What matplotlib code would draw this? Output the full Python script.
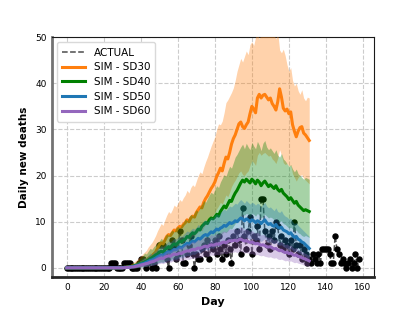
import numpy as np
import matplotlib
matplotlib.use('Agg')
import matplotlib.pyplot as plt

# actual daily deaths, day 0..158
actual = [0]*20 + [
    0, 0, 0, 0, 1, 1, 1, 0, 0, 0,
    0, 1, 1, 1, 1, 0, 0, 0, 0, 1,
    2, 2, 1, 0, 1, 2, 0, 1, 0, 3,
    5, 5, 5, 3, 2, 0, 4, 6, 5, 2,
    3, 8, 6, 1, 1, 3, 5, 7, 3, 0,
    3, 2, 2, 4, 5, 3, 6, 2, 5, 4,
    6, 3, 7, 4, 2, 5, 3, 6, 4, 1,
    7, 5, 8, 6, 3, 13, 7, 4, 8, 11,
    3, 7, 6, 9, 4, 15, 15, 8, 5, 7,
    4, 8, 6, 10, 9, 5, 7, 4, 6, 5,
    3, 6, 4, 10, 5, 3, 5, 2, 4, 3,
    1, 2, 1, 3, 2, 1, 3, 1, 4, 4,
    4, 4, 3, 1, 1, 7, 4, 3, 1, 2,
    1, 0, 1, 2, 0, 1, 3, 0, 2]

# simulations, day 0..131 (zero before day 30)
sd30_mean = [0]*30 + [
    0, 0.1, 0.1, 0.2, 0.2, 0.3, 0.4, 0.5, 0.7, 0.8,
    1.0, 1.2, 1.4, 1.7, 2.0, 2.3, 2.6, 3.0, 3.4, 4.2,
    5.0, 5.4, 5.2, 6.0, 6.8, 7.2, 7.0, 7.6, 8.2, 8.0,
    8.6, 9.0, 8.8, 9.4, 9.8, 10.4, 10.0, 10.8, 11.2, 11.0,
    12.0, 12.6, 13.2, 13.0, 14.2, 15.0, 15.6, 16.4, 17.2, 17.8,
    18.6, 19.8, 20.6, 21.6, 21.0, 22.6, 24.0, 23.6, 25.0, 26.8,
    28.0, 28.8, 30.0, 31.2, 31.6, 30.6, 30.2, 31.0, 31.6, 33.4,
    35.0, 34.4, 33.6, 36.8, 37.6, 36.8, 37.4, 37.6, 37.0, 36.4,
    36.8, 35.6, 35.0, 34.2, 36.0, 38.8, 37.0, 34.6, 34.0, 34.4,
    33.4, 33.8, 31.0, 29.6, 28.4, 29.6, 30.4, 30.6, 29.2, 28.8,
    28.2, 27.6]
sd30_hi = [0]*30 + [
    0, 0.3, 0.4, 0.6, 0.7, 1.0, 1.2, 1.5, 1.8, 2.2,
    2.6, 3.0, 3.4, 3.8, 4.5, 5.0, 5.5, 6.2, 7.0, 8.0,
    8.8, 9.6, 9.2, 10.4, 11.4, 12.2, 11.8, 12.6, 13.6, 13.2,
    14.0, 14.8, 14.4, 15.2, 15.8, 16.8, 16.2, 17.4, 18.0, 17.6,
    18.8, 20.0, 20.8, 20.4, 21.8, 23.0, 24.0, 25.2, 26.4, 27.4,
    28.4, 30.0, 31.2, 31.0, 31.8, 33.6, 35.8, 36.4, 37.2, 38.0,
    39.0, 40.6, 42.6, 44.0, 45.4, 44.6, 45.8, 47.0, 46.2, 48.4,
    49.0, 48.2, 50.0, 51.0, 49.6, 50.8, 52.0, 51.4, 53.0, 50.6,
    52.0, 54.0, 50.4, 49.6, 51.0, 47.2, 46.6, 47.4, 46.0, 44.0,
    42.6, 43.4, 40.6, 39.4, 40.0, 38.4, 37.6, 38.6, 36.8, 36.2,
    37.0, 36.8]
sd30_lo = [0]*30 + [
    0, 0, 0, 0, 0, 0, 0, 0, 0.1, 0.2,
    0.3, 0.4, 0.5, 0.6, 0.8, 1.0, 1.2, 1.4, 1.6, 2.2,
    2.8, 3.0, 2.8, 3.4, 4.0, 4.2, 4.0, 4.4, 4.8, 4.6,
    5.0, 5.4, 5.2, 5.6, 6.0, 6.4, 6.0, 6.6, 7.0, 6.8,
    7.4, 7.8, 8.2, 8.0, 8.8, 9.4, 9.8, 10.4, 11.0, 11.4,
    12.0, 12.8, 13.4, 14.2, 13.8, 14.8, 15.8, 15.4, 16.4, 17.6,
    18.4, 19.0, 19.8, 20.6, 21.0, 20.2, 20.0, 20.6, 21.0, 22.2,
    23.2, 22.8, 22.2, 24.4, 25.0, 24.4, 24.8, 25.0, 24.6, 24.2,
    24.4, 23.6, 23.2, 22.6, 23.8, 25.6, 24.4, 22.8, 22.4, 22.6,
    22.0, 22.2, 20.4, 19.6, 18.8, 19.6, 20.0, 20.2, 19.4, 19.0,
    18.6, 18.2]

sd40_mean = [0]*30 + [
    0, 0.1, 0.1, 0.2, 0.2, 0.3, 0.4, 0.5, 0.6, 0.8,
    1.0, 1.1, 1.3, 1.5, 1.7, 2.0, 2.2, 2.5, 2.8, 3.0,
    3.4, 3.6, 3.4, 3.9, 4.3, 4.6, 4.4, 4.9, 5.2, 5.0,
    5.4, 5.8, 5.6, 6.0, 6.2, 6.8, 6.6, 7.2, 7.6, 7.4,
    7.8, 8.4, 8.2, 9.0, 9.4, 9.8, 9.6, 10.4, 10.8, 10.6,
    11.0, 11.6, 11.2, 12.2, 12.8, 13.4, 13.0, 13.8, 14.6, 14.4,
    15.4, 16.2, 16.8, 17.6, 18.4, 19.0, 18.6, 19.2, 18.8, 18.4,
    19.2, 18.8, 18.2, 19.0, 18.6, 17.8, 18.4, 18.8, 18.2, 17.6,
    18.0, 17.6, 17.2, 17.8, 17.0, 16.6, 17.0, 16.2, 15.8, 15.4,
    14.8, 15.2, 14.6, 14.0, 14.4, 13.6, 13.2, 12.8, 12.4, 12.6,
    12.4, 12.2]
sd40_hi = [0]*30 + [
    0, 0.2, 0.3, 0.5, 0.6, 0.8, 1.0, 1.2, 1.5, 1.8,
    2.2, 2.6, 3.2, 3.0, 3.6, 4.2, 4.0, 4.6, 5.0, 5.6,
    5.8, 6.4, 6.0, 6.8, 7.4, 7.0, 7.8, 8.2, 7.8, 8.6,
    9.0, 8.6, 9.4, 9.8, 10.6, 10.2, 11.0, 11.6, 11.2, 12.0,
    12.6, 12.2, 13.2, 13.8, 14.6, 14.2, 15.0, 15.8, 16.4, 16.0,
    17.0, 17.8, 17.4, 18.6, 19.4, 20.2, 19.8, 21.0, 22.0, 21.6,
    22.8, 24.0, 24.6, 25.4, 26.2, 26.8, 25.8, 27.0, 26.2, 25.6,
    27.2, 26.4, 25.8, 27.4, 26.6, 25.4, 27.0, 27.6, 26.2, 25.6,
    26.0, 25.4, 24.8, 25.6, 24.4, 24.0, 24.8, 23.6, 23.2, 22.6,
    22.0, 22.4, 21.4, 20.8, 21.4, 20.4, 20.0, 19.6, 19.2, 19.6,
    19.4, 19.2]
sd40_lo = [0]*30 + [
    0, 0, 0, 0, 0, 0, 0, 0, 0, 0.1,
    0.2, 0.2, 0.3, 0.4, 0.5, 0.6, 0.7, 0.8, 0.9, 1.0,
    1.2, 1.3, 1.2, 1.5, 1.7, 1.9, 1.8, 2.0, 2.2, 2.1,
    2.4, 2.6, 2.5, 2.8, 3.0, 3.3, 3.2, 3.6, 3.8, 3.7,
    4.0, 4.4, 4.2, 4.8, 5.0, 5.3, 5.2, 5.7, 6.0, 5.9,
    6.2, 6.6, 6.4, 7.0, 7.4, 7.8, 7.6, 8.0, 8.6, 8.4,
    9.0, 9.6, 10.0, 10.6, 11.2, 11.6, 11.4, 11.8, 11.6, 11.2,
    11.8, 11.6, 11.2, 11.8, 11.4, 10.8, 11.2, 11.6, 11.2, 10.8,
    11.0, 10.8, 10.4, 10.8, 10.2, 10.0, 10.2, 9.6, 9.4, 9.0,
    8.6, 8.8, 8.4, 8.0, 8.2, 7.6, 7.4, 7.0, 6.8, 7.0,
    6.8, 6.6]

sd50_mean = [0]*30 + [
    0, 0.1, 0.1, 0.1, 0.2, 0.2, 0.3, 0.4, 0.5, 0.6,
    0.8, 0.9, 1.0, 1.2, 1.4, 1.6, 1.7, 1.9, 2.1, 2.4,
    2.6, 2.8, 2.7, 3.0, 3.3, 3.5, 3.4, 3.7, 4.0, 3.9,
    4.2, 4.5, 4.3, 4.7, 5.0, 5.3, 5.1, 5.5, 5.8, 5.6,
    6.0, 6.4, 6.2, 6.6, 7.0, 7.2, 7.0, 7.4, 7.8, 7.6,
    8.0, 8.4, 8.2, 8.6, 8.8, 9.2, 9.0, 9.4, 9.8, 9.6,
    9.8, 10.2, 10.0, 10.4, 10.8, 10.6, 10.2, 10.6, 10.4, 10.0,
    10.4, 10.2, 9.8, 10.2, 10.0, 9.6, 10.0, 10.4, 9.8, 9.4,
    9.6, 9.2, 9.0, 9.4, 8.8, 8.6, 8.8, 8.2, 8.0, 7.8,
    7.4, 7.6, 7.0, 6.6, 6.8, 6.2, 6.0, 5.6, 5.4, 5.0,
    4.6, 4.2]
sd50_hi = [0]*30 + [
    0, 0.2, 0.3, 0.4, 0.5, 0.6, 0.8, 1.0, 1.2, 1.4,
    1.7, 2.0, 2.3, 2.2, 2.8, 3.2, 3.0, 3.5, 3.8, 4.2,
    4.4, 4.8, 4.6, 5.0, 5.4, 5.8, 5.6, 6.0, 6.4, 6.2,
    6.6, 7.0, 6.8, 7.2, 7.6, 8.0, 7.8, 8.2, 8.6, 8.4,
    8.8, 9.4, 9.0, 9.6, 10.2, 10.4, 10.0, 10.6, 11.0, 10.8,
    11.4, 11.8, 11.4, 12.0, 12.4, 12.8, 12.4, 13.0, 13.4, 13.2,
    13.6, 14.0, 13.8, 14.4, 14.8, 14.4, 14.0, 14.6, 14.2, 13.8,
    14.2, 14.0, 13.6, 14.0, 13.8, 13.2, 13.8, 14.2, 13.4, 13.0,
    13.2, 12.8, 12.4, 13.0, 12.2, 12.0, 12.4, 11.6, 11.2, 11.0,
    10.6, 10.8, 10.0, 9.6, 9.8, 9.2, 8.8, 8.4, 8.0, 7.6,
    7.2, 6.8]
sd50_lo = [0]*30 + [
    0, 0, 0, 0, 0, 0, 0, 0, 0.1, 0.1,
    0.2, 0.2, 0.3, 0.4, 0.5, 0.6, 0.6, 0.7, 0.8, 1.0,
    1.1, 1.2, 1.1, 1.3, 1.5, 1.6, 1.5, 1.7, 1.9, 1.8,
    2.0, 2.2, 2.1, 2.3, 2.5, 2.7, 2.6, 2.8, 3.0, 2.9,
    3.2, 3.4, 3.3, 3.6, 3.8, 4.0, 3.8, 4.1, 4.4, 4.2,
    4.6, 4.8, 4.6, 5.0, 5.2, 5.4, 5.2, 5.6, 5.9, 5.7,
    5.9, 6.2, 6.0, 6.4, 6.7, 6.5, 6.2, 6.6, 6.4, 6.1,
    6.4, 6.2, 5.9, 6.2, 6.0, 5.7, 6.0, 6.3, 5.8, 5.5,
    5.7, 5.4, 5.2, 5.5, 5.0, 4.9, 5.0, 4.6, 4.4, 4.3,
    4.0, 4.2, 3.8, 3.5, 3.7, 3.3, 3.1, 2.9, 2.7, 2.5,
    2.2, 2.0]

sd60_mean = [0]*30 + [
    0, 0, 0.1, 0.1, 0.1, 0.2, 0.2, 0.3, 0.4, 0.5,
    0.6, 0.7, 0.8, 0.9, 1.0, 1.2, 1.3, 1.4, 1.6, 1.8,
    2.0, 2.1, 2.0, 2.3, 2.5, 2.6, 2.5, 2.8, 3.0, 2.9,
    3.0, 3.2, 3.1, 3.4, 3.5, 3.7, 3.6, 3.8, 4.0, 3.9,
    4.1, 4.3, 4.2, 4.4, 4.6, 4.7, 4.5, 4.8, 5.0, 4.9,
    5.0, 5.2, 5.1, 5.3, 5.5, 5.6, 5.4, 5.7, 5.9, 5.8,
    5.9, 6.0, 5.8, 6.1, 6.2, 6.0, 5.8, 5.9, 5.7, 5.5,
    5.6, 5.4, 5.2, 5.3, 5.1, 4.9, 5.0, 4.8, 4.6, 4.5,
    4.6, 4.3, 4.1, 4.2, 3.9, 3.7, 3.8, 3.5, 3.3, 3.4,
    3.1, 3.2, 2.9, 2.7, 2.8, 2.5, 2.4, 2.2, 2.0, 1.9,
    1.7, 1.5]
sd60_hi = [0]*30 + [
    0, 0.1, 0.2, 0.2, 0.3, 0.4, 0.5, 0.6, 0.7, 0.8,
    1.0, 1.1, 1.3, 1.4, 1.6, 1.8, 2.0, 2.1, 2.4, 2.6,
    2.9, 3.0, 2.9, 3.3, 3.6, 3.7, 3.6, 4.0, 4.3, 4.2,
    4.4, 4.6, 4.5, 4.9, 5.1, 5.3, 5.2, 5.5, 5.8, 5.6,
    5.9, 6.2, 6.0, 6.3, 6.6, 6.8, 6.5, 6.9, 7.2, 7.0,
    7.2, 7.5, 7.3, 7.6, 7.9, 8.0, 7.8, 8.2, 8.5, 8.3,
    8.5, 8.6, 8.3, 8.8, 8.9, 8.6, 8.3, 8.5, 8.2, 7.9,
    8.1, 7.8, 7.5, 7.7, 7.4, 7.1, 7.3, 7.0, 6.7, 6.6,
    6.7, 6.3, 6.0, 6.2, 5.8, 5.5, 5.7, 5.3, 5.0, 5.2,
    4.8, 4.9, 4.5, 4.2, 4.4, 4.0, 3.8, 3.5, 3.3, 3.1,
    2.9, 2.6]
sd60_lo = [0]*30 + [
    0, 0, 0, 0, 0, 0, 0, 0, 0.1, 0.1,
    0.2, 0.2, 0.3, 0.3, 0.4, 0.5, 0.5, 0.6, 0.7, 0.8,
    0.9, 1.0, 0.9, 1.1, 1.2, 1.3, 1.2, 1.4, 1.5, 1.4,
    1.5, 1.6, 1.5, 1.7, 1.8, 1.9, 1.8, 2.0, 2.1, 2.0,
    2.2, 2.3, 2.2, 2.4, 2.5, 2.6, 2.4, 2.6, 2.8, 2.7,
    2.8, 2.9, 2.8, 3.0, 3.1, 3.2, 3.0, 3.2, 3.4, 3.3,
    3.4, 3.5, 3.3, 3.5, 3.6, 3.4, 3.2, 3.3, 3.2, 3.0,
    3.1, 2.9, 2.8, 2.9, 2.7, 2.6, 2.7, 2.5, 2.4, 2.3,
    2.4, 2.2, 2.1, 2.2, 1.9, 1.8, 1.9, 1.7, 1.5, 1.6,
    1.4, 1.5, 1.3, 1.1, 1.2, 1.0, 0.9, 0.8, 0.6, 0.5,
    0.4, 0.3]

labels = ['SIM - SD30', 'SIM - SD40', 'SIM - SD50', 'SIM - SD60']
colors = ['#ff7f0e', '#008000', '#1f77b4', '#9467bd']
means = [sd30_mean, sd40_mean, sd50_mean, sd60_mean]
highs = [sd30_hi, sd40_hi, sd50_hi, sd60_hi]
lows = [sd30_lo, sd40_lo, sd50_lo, sd60_lo]

days_act = np.arange(len(actual))
days_sim = np.arange(len(sd30_mean))

fig = plt.figure(figsize=(4.16, 3.12), dpi=100)
ax = fig.add_axes([0.125, 0.112, 0.774, 0.769])

ax.plot(days_act, actual, '--', color='0.3', linewidth=1.1, label='ACTUAL', zorder=2)
ax.plot(days_act, actual, 'o', color='k', markersize=3.6, zorder=2)

for m, h, l, c, lab in zip(means, highs, lows, colors, labels):
    ax.plot(days_sim, m, '-', color=c, linewidth=2.2, label=lab, zorder=3)
    ax.fill_between(days_sim, l, h, color=c, alpha=0.35, linewidth=0, zorder=3)

ax.set_xlim(-8, 166)
ax.set_ylim(-2, 50)
ax.set_xticks([0, 20, 40, 60, 80, 100, 120, 140, 160])
ax.set_yticks([0, 10, 20, 30, 40, 50])
ax.tick_params(axis='both', length=0, labelsize=6.5, pad=4)
ax.grid(True, linestyle='--', color='0.8', linewidth=0.8)
ax.set_axisbelow(True)

ax.set_xlabel('Day', fontsize=8, fontweight='bold')
ax.set_ylabel('Daily new deaths', fontsize=7.5, fontweight='bold')

ax.spines['left'].set_color('0.45')
ax.spines['left'].set_linewidth(2)
ax.spines['bottom'].set_color('0.15')
ax.spines['bottom'].set_linewidth(2)
ax.spines['top'].set_color('0.1')
ax.spines['right'].set_color('0.1')

leg = ax.legend(loc='upper left', fontsize=7.5, handlelength=2.2, framealpha=1,
                edgecolor='0.85', borderpad=0.5, labelspacing=0.45)

fig.savefig('out.png', dpi=100)
